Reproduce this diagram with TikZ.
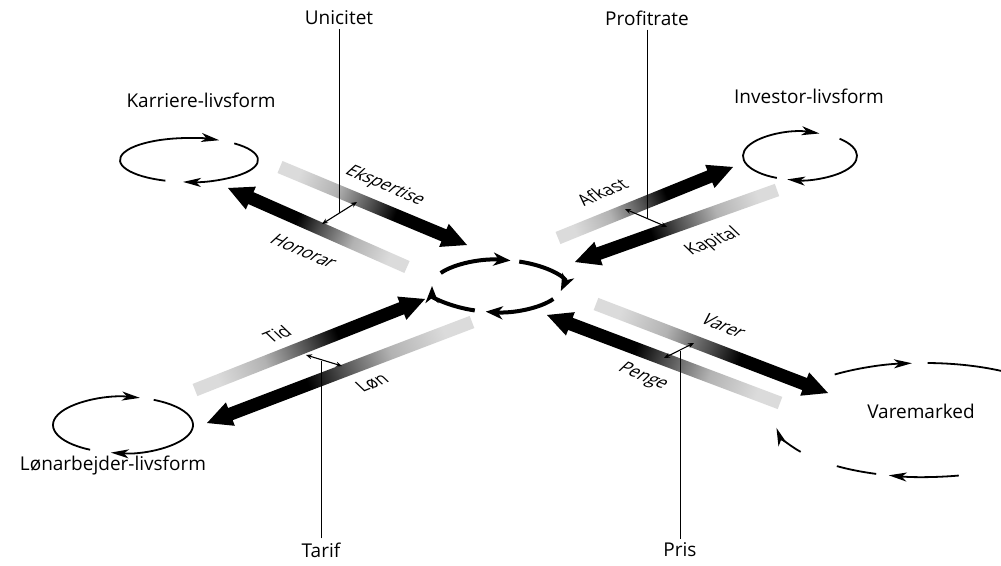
\documentclass[tikz,border=0pt]{standalone}
\usepackage{fontspec}
\setmainfont{Open Sans}
\usetikzlibrary{calc,arrows.meta}
\pgfdeclarehorizontalshading{flowshade}{100bp}{%
  color(0bp)=(black!14); color(25bp)=(black!14); color(38bp)=(black!30);
  color(50bp)=(black!70); color(58bp)=(black); color(100bp)=(black)}
\newcommand\flowarr[3]{%
  \coordinate (fb) at ($(#2)!25pt!(#1)$);
  \shade[shading=flowshade, shading angle=#3]
    ($(#1)!6.5pt!90:(#2)$) -- ($(fb)!6.5pt!90:(#2)$) -- ($(fb)!12.5pt!90:(#2)$) -- (#2)
    -- ($(fb)!12.5pt!-90:(#2)$) -- ($(fb)!6.5pt!-90:(#2)$) -- ($(#1)!6.5pt!-90:(#2)$) -- cycle;
}
\tikzset{
  lbl/.style={font=\fontsize{19}{22}\selectfont, inner sep=0pt},
  alab/.style={font=\fontsize{17}{20}\selectfont, inner sep=0pt},
  smallarc/.style={line width=1.8pt, -{Stealth[length=18pt,width=9pt,inset=5pt]}},
  plainarc/.style={line width=1.8pt},
  centerarc/.style={line width=4pt, -{Stealth[length=17pt,width=13pt,inset=5pt]}},
  link/.style={line width=1.1pt, {Stealth[length=6pt,width=5pt]}-{Stealth[length=6pt,width=5pt]}},
  vline/.style={line width=0.8pt}
}
\begin{document}
\begin{tikzpicture}[x=1pt,y=-1pt]
\useasboundingbox (0,0) rectangle (1001,565);
\clip (0,0) rectangle (1001,565);
\fill[white] (0,0) rectangle (1001,565);

% ---------- flow arrows ----------
\coordinate (ekT) at (280,167); \coordinate (ekH) at (467,245);
\coordinate (hoT) at (407,267); \coordinate (hoH) at (228,188);
\coordinate (afT) at (558,238); \coordinate (afH) at (733,167);
\coordinate (kaT) at (777,190); \coordinate (kaH) at (575,262);
\coordinate (tiT) at (195,390); \coordinate (tiH) at (425,299);
\coordinate (loT) at (472,322); \coordinate (loH) at (207,423);
\coordinate (vaT) at (596,304); \coordinate (vaH) at (828,393);
\coordinate (peT) at (780,403); \coordinate (peH) at (547,315);
\flowarr{ekT}{ekH}{-22.6}
\flowarr{hoT}{hoH}{156.2}
\flowarr{afT}{afH}{22.1}
\flowarr{kaT}{kaH}{-160.4}
\flowarr{tiT}{tiH}{21.6}
\flowarr{loT}{loH}{-159.1}
\flowarr{vaT}{vaH}{-21}
\flowarr{peT}{peH}{159.3}

% ---------- arrow labels ----------
\node[alab, rotate=-23, xslant=0.45] (eksp) at (385,186) {Ekspertise};
\node[alab, rotate=-23, xslant=0.45] (hono) at (304,251) {Honorar};
\node[alab, rotate=22, xslant=-0.45] (afk) at (602,192) {Afkast};
\node[alab, rotate=22, xslant=-0.45] (kap) at (713,242) {Kapital};
\node[alab, rotate=22, xslant=-0.45] (tid) at (277,334) {Tid};
\node[alab, rotate=22, xslant=-0.45] (lon) at (372,383) {Løn};
\node[alab, rotate=-22, xslant=0.45] (var) at (724,326) {Varer};
\node[alab, rotate=-22, xslant=0.45] (pen) at (643,377) {Penge};

% ---------- cross links ----------
\coordinate (u1) at (322,224); \coordinate (u2) at (357,202);
\coordinate (p1) at (625,209); \coordinate (p2) at (667,227);
\coordinate (t1) at (306,355); \coordinate (t2) at (342,366);
\coordinate (r1) at (664,358); \coordinate (r2) at (694,343);
\draw[link] (u1) -- (u2);
\draw[link] (p1) -- (p2);
\draw[link] (t1) -- (t2);
\draw[link] (r1) -- (r2);
\coordinate (um) at ($(u1)!0.5!(u2)$);
\coordinate (pm) at ($(p1)!0.5!(p2)$);
\coordinate (tm) at ($(t1)!0.5!(t2)$);
\coordinate (rm) at ($(r1)!0.5!(r2)$);

% ---------- text labels ----------
\node[lbl] (unic) at (339,18) {Unicitet};
\node[lbl] (prof) at (647,18) {Profitrate};
\node[lbl] (karr) at (201,100) {Karriere-livsform};
\node[lbl] (inve) at (809,96) {Investor-livsform};
\node[lbl] (lona) at (113,466) {Lønarbejder-livsform};
\node[lbl] (tarif) at (321,550) {Tarif};
\node[lbl] (pris) at (680,550) {Pris};
\node[lbl] (vmk) at (921,411) {Varemarked};

\draw[vline] (unic.south) ++(0,4) -- (unic.south |- um);
\draw[vline] (prof.south) ++(0,4) -- (prof.south |- pm);
\draw[vline] (tarif.north) ++(0,-4) -- (tarif.north |- tm);
\draw[vline] (pris.north) ++(0,-4) -- (pris.north |- rm);

% ---------- centre cycle ----------
\coordinate (cc) at (497,286);
\draw[centerarc] ($(cc)+(-150:65 and 26)$) arc[start angle=-150, end angle=-78, x radius=65, y radius=26];
\draw[centerarc] ($(cc)+(-70:65 and 26)$) arc[start angle=-70, end angle=11, x radius=65, y radius=26];
\draw[centerarc] ($(cc)+(30:65 and 26)$) arc[start angle=30, end angle=100, x radius=65, y radius=26];
\draw[centerarc] ($(cc)+(110:65 and 26)$) arc[start angle=110, end angle=180, x radius=65, y radius=26];

% ---------- Karriere cycle ----------
\coordinate (kc) at (189,160);
\draw[smallarc] ($(kc)+(-250:69 and 22)$) arc[start angle=-250, end angle=-64, x radius=69, y radius=22];
\draw[smallarc] ($(kc)+(-49:69 and 22)$) arc[start angle=-49, end angle=95, x radius=69, y radius=22];

% ---------- Investor cycle ----------
\coordinate (ic) at (800,156);
\draw[smallarc] ($(ic)+(-246:57 and 24)$) arc[start angle=-246, end angle=-70, x radius=57, y radius=24];
\draw[smallarc] ($(ic)+(-46:57 and 24)$) arc[start angle=-46, end angle=103, x radius=57, y radius=24];

% ---------- Lønarbejder cycle ----------
\coordinate (lc) at (123,425);
\draw[smallarc] ($(lc)+(-242:70 and 28)$) arc[start angle=-242, end angle=-76, x radius=70, y radius=28];
\draw[smallarc] ($(lc)+(-64:70 and 28)$) arc[start angle=-64, end angle=100, x radius=70, y radius=28];

% ---------- Varemarked cycle ----------
\coordinate (vc) at (925,420);
\draw[smallarc] ($(vc)+(-127:150 and 57)$) arc[start angle=-127, end angle=-95, x radius=150, y radius=57];
\draw[plainarc] ($(vc)+(-89:150 and 57)$) arc[start angle=-89, end angle=-40, x radius=150, y radius=57];
\draw[smallarc] ($(vc)+(146:150 and 57)$) arc[start angle=146, end angle=172, x radius=150, y radius=57];
\draw[plainarc] ($(vc)+(109:150 and 57)$) arc[start angle=109, end angle=126, x radius=150, y radius=57];
\draw[smallarc] ($(vc)+(77:150 and 57)$) arc[start angle=77, end angle=104, x radius=150, y radius=57];
\end{tikzpicture}
\end{document}
